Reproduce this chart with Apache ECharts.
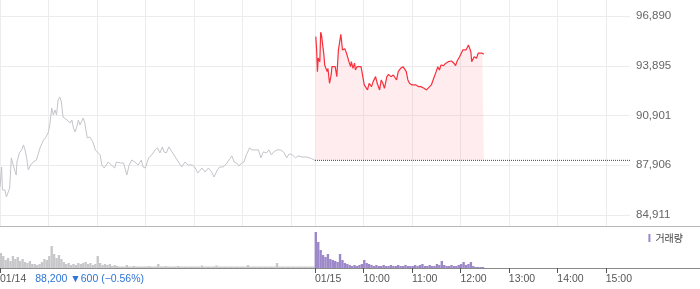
<!DOCTYPE html>
<html><head><meta charset="utf-8">
<script src="https://cdn.jsdelivr.net/npm/echarts@6/dist/echarts.min.js"></script>
<style>html,body{margin:0;padding:0;background:#fff}#c{width:700px;height:289px}</style>
</head><body><div id="c"></div>
<script>
// ---- data ----
const prevDate = '01/14';
const curDate = '01/15';
const prevClose = 88200;
const changeText = '88,200 ▼600 (−0.56%)';
const yTicks = [84911, 87906, 90901, 93895, 96890];
const hourLabels = ['10:00', '11:00', '12:00', '13:00', '14:00', '15:00'];

// day 1 (01/14): minutes after 09:00 and price
const day1Min = [0,2,3,6,8,12,14,17,20,21,24,27,29,31,33,35,38,41,45,47,50,54,57,60,62,64,66,68,70,72,74,76,78,80,83,85,87,89,91,93,95,97,99,101,103,105,108,111,115,118,120,124,126,129,131,134,138,142,144,149,153,157,160,163,167,171,175,177,180,184,188,192,195,198,201,203,206,209,213,217,221,225,229,233,238,241,245,250,254,258,262,265,269,272,276,281,283,287,290,293,296,299,302,305,309,312,316,320,323,326,330,333,336,339,343,347,351,355,358,362,366,369,374,380,386,390];
const day1Price = [86600,87800,86420,86420,86000,86540,88350,87800,87320,88100,88650,88830,89130,88830,88350,87620,87920,88100,88220,88530,89010,89430,89610,89910,90450,91350,90930,91230,90930,91840,92020,91720,90810,90750,90630,90750,90450,90630,90150,89910,90210,90630,90330,90210,90750,90450,89550,89610,89310,88830,88950,88530,87920,87740,87800,88100,87920,87740,88100,88040,88040,87320,87920,88220,88100,87920,88220,87800,87740,88350,88530,88830,88950,88650,89010,88710,88650,89010,88710,88400,88100,87800,88100,87920,87920,87800,87440,87740,87500,87740,87500,87200,87620,87800,87800,88040,87920,88470,88100,88040,87860,88040,88100,88530,88950,88830,88830,88830,88350,88710,88650,88830,88530,88710,88830,88830,88710,88350,88590,88530,88350,88470,88400,88400,88300,88200];

// day 2 (01/15): minutes after 09:00 and price
const day2Min = [1,2,3,4,6,7,8,11,12,13,15,16,18,20,21,23,25,27,29,30,32,34,35,37,39,40,42,44,45,47,49,50,52,54,57,59,61,63,65,67,70,72,75,77,80,82,84,86,89,91,94,97,101,103,106,109,111,113,115,117,120,122,125,128,131,135,138,140,144,147,150,152,154,156,159,162,165,169,172,174,176,179,181,183,185,187,190,193,194,197,200,202,204,207,209];
const day2Price = [95650,94850,93540,94360,94140,95910,95750,94550,93940,94060,93540,93740,92840,93340,93840,93740,93840,93240,94850,95150,95790,94850,94740,94910,94650,94550,94140,93840,94140,93740,94050,93640,93840,93940,93840,93840,92740,92840,92440,92840,92640,92940,93240,92840,92440,93040,92840,92540,93240,93380,93240,93340,93040,93540,93740,93840,93880,93540,93040,92840,92740,92840,92740,92640,92640,92540,92440,92540,92740,93140,93540,93840,93640,93940,93900,94050,94140,94180,94050,93900,94180,94440,94350,94850,94950,94850,95150,94740,94140,94440,94350,94650,94550,94650,94590];

// volume per 3-minute bucket (thousand shares)
const day1Vol = [15,12,8,10,7,12,9,11,7,9,6,5,7,4,4,3,4,6,9,8,
  12,22,14,10,13,9,6,4,5,3,4,3,5,4,5,6,4,5,3,4,
  12,5,3,4,3,4,2,3,2,1.5,1.5,1.5,3,1.5,1.5,2,1.5,1.5,1.5,1.5,
  1.5,2,1.5,1.5,1.5,4,1.5,1.5,2,1.5,1.5,1.5,1.5,2,1.5,1.5,1.5,1.5,1.5,1.5,
  1.5,1.5,1.5,2.5,1.5,1.5,1.5,1.5,1.5,2.5,1.5,1.5,1.5,1.5,1.5,1.5,1.5,1.5,1.5,1.5,
  1.5,1.5,3,1.5,1.5,1.5,1.5,1.5,1.5,1.5,1.5,1.5,1.5,1.5,5,1.5,1.5,1.5,1.5,1.5,
  1.5,1.5,1.5,1.5,1.5,1.5,1.5,1.5,1.5,1.5];
const day2Vol = [36,26,18,13,11,14,9,8,7,6,
  14,8,5,4,3,2,3,2,3,4,
  8,5,4,3,2,3,2,2,3,2,
  2,3,2,2,3,2,2,3,2,2,
  2,3,2,3,4,2,2,3,2,2,
  4,3,7,3,2,2,3,2,2,3,
  4,6,3,4,6,2,1,1,1,1];
const volBucket = 3;

// ---- build ----
const SESSION = 390; // 09:00 - 15:30
const cats = [];
for (let k = 0; k <= 2 * SESSION; k++) {
  const day = k < SESSION ? prevDate : curDate;
  const m = k < SESSION ? k : k - SESSION;
  const hh = 9 + Math.floor(m / 60), mm = m % 60;
  cats.push(day + ' ' + String(hh).padStart(2, '0') + ':' + String(mm).padStart(2, '0'));
}
const isHour = k => (k < SESSION ? k % 60 === 0 : (k - SESSION) % 60 === 0);
const isLabel = k => k === 0 || (k >= SESSION && (k - SESSION) % 60 === 0 && k < 2 * SESSION);

const day1Data = day1Min.map((m, i) => [m, day1Price[i]]);
const day2Data = day2Min.map((m, i) => [SESSION + m, day2Price[i]]);
const volData = [];
day1Vol.forEach((v, i) => volData.push({ value: [i * volBucket + 1, v], itemStyle: { color: '#c8c8ca' } }));
day2Vol.forEach((v, i) => volData.push({ value: [SESSION + i * volBucket + 1, v] }));

const font = '"Liberation Sans", Arial, "Noto Sans CJK KR", sans-serif';
const catAxisBase = { type: 'category', data: cats, boundaryGap: false };

const chart = echarts.init(document.getElementById('c'), null, { renderer: 'canvas' });
chart.setOption({
  animation: false,
  backgroundColor: '#fff',
  textStyle: { fontFamily: font },
  grid: [
    { left: 0, top: 0, width: 630, height: 226, outerBoundsMode: 'none' },
    { left: 0, top: 16, width: 630, height: 199, outerBoundsMode: 'none' },
    { left: 0, top: 232, width: 630, height: 36, outerBoundsMode: 'none' },
    { left: 0, top: 0, width: 700, height: 226, outerBoundsMode: 'none' },
    { left: 0, top: 232, width: 700, height: 36, outerBoundsMode: 'none' }
  ],
  legend: {
    data: ['거래량'], right: 17, top: 233, padding: 0,
    icon: 'rect', itemWidth: 2, itemHeight: 8, itemGap: 4,
    textStyle: { fontSize: 10, color: '#444', fontFamily: '"Noto Sans CJK KR", sans-serif' }
  },
  xAxis: [
    Object.assign({}, catAxisBase, { gridIndex: 0, axisLine: { show: false }, axisTick: { show: false }, axisLabel: { show: false },
      splitLine: { show: true, interval: (i) => isHour(i), lineStyle: { color: '#ececec', width: 1 } } }),
    Object.assign({}, catAxisBase, { gridIndex: 1, show: false }),
    Object.assign({}, catAxisBase, { gridIndex: 2,
      axisLine: { show: true, lineStyle: { color: '#8a8a8a' } },
      axisTick: { show: true, interval: (i) => isLabel(i), length: 5, lineStyle: { color: '#555' } },
      splitLine: { show: false },
      axisLabel: {
        show: true, interval: (i) => isLabel(i), align: 'left', margin: 6,
        fontSize: 10.5, color: '#555', fontFamily: font,
        formatter: (v, i) => {
          const parts = v.split(' ');
          if (i === 0) return parts[0] + '{b|' + changeText + '}';
          if (parts[1] === '09:00') return parts[0];
          return parts[1];
        },
        rich: { b: { color: '#2f74d6', fontSize: 10.5, fontFamily: font, padding: [0, 0, 0, 9] } }
      } }),
    { gridIndex: 3, type: 'value', min: 0, max: 1, axisLine: { show: true, onZero: false, lineStyle: { color: '#b8b8b8' } }, axisTick: { show: false }, axisLabel: { show: false }, splitLine: { show: false } },
    { gridIndex: 4, type: 'value', min: 0, max: 1, axisLine: { show: true, onZero: false, lineStyle: { color: '#8a8a8a' } }, axisTick: { show: false }, axisLabel: { show: false }, splitLine: { show: false } }
  ],
  yAxis: [
    { gridIndex: 0, type: 'value', min: 0, max: 1, show: false },
    { gridIndex: 1, type: 'value', position: 'right', min: yTicks[0], max: yTicks[yTicks.length - 1],
      interval: (yTicks[yTicks.length - 1] - yTicks[0]) / (yTicks.length - 1),
      axisLine: { show: false }, axisTick: { show: false },
      splitLine: { show: true, lineStyle: { color: '#ececec', width: 1 } },
      axisLabel: { margin: 6, fontSize: 11.5, color: '#666', fontFamily: font,
        formatter: v => Math.round(v).toLocaleString('en-US') } },
    { gridIndex: 2, type: 'value', min: 0, max: 36, show: false },
    { gridIndex: 3, type: 'value', min: 0, max: 1, show: false },
    { gridIndex: 4, type: 'value', min: 0, max: 1, show: false }
  ],
  series: [
    { name: prevDate, type: 'line', xAxisIndex: 1, yAxisIndex: 1, data: day1Data, symbol: 'none',
      lineStyle: { color: '#c4c4ca', width: 1 }, itemStyle: { color: '#c4c4ca' }, z: 3 },
    { name: curDate, type: 'line', xAxisIndex: 1, yAxisIndex: 1, data: day2Data, symbol: 'none',
      lineStyle: { color: '#f7303c', width: 1.2 }, itemStyle: { color: '#f7303c' },
      areaStyle: { color: 'rgba(248,150,160,0.25)', origin: prevClose }, z: 4 },
    { name: 'prevClose', type: 'line', xAxisIndex: 1, yAxisIndex: 1, symbol: 'none', silent: true,
      data: [[SESSION, prevClose], [2 * SESSION, prevClose]],
      lineStyle: { color: '#444', width: 1, type: [1, 1] }, z: 5 },
    { name: '거래량', type: 'bar', xAxisIndex: 2, yAxisIndex: 2, data: volData, barWidth: 2.4,
      itemStyle: { color: '#9c88c8' } }
  ]
});
</script></body></html>
